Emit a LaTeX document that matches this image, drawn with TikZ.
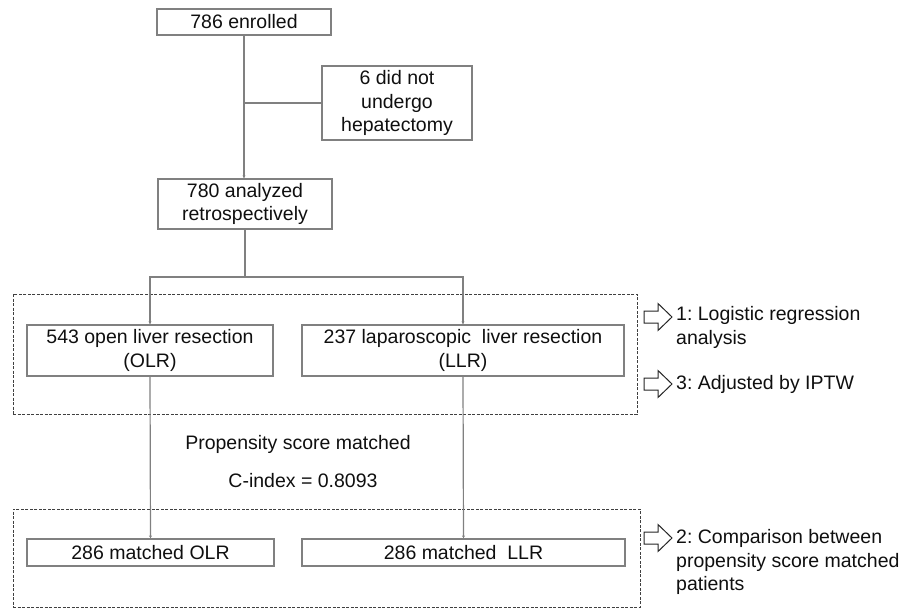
\documentclass[tikz,border=0pt]{standalone}
\usepackage{fontspec}
\setmainfont{Liberation Sans}
\usetikzlibrary{arrows.meta}
\definecolor{boxline}{RGB}{128,128,128}
\definecolor{txt}{RGB}{15,15,15}
\frenchspacing
\begin{document}
\begin{tikzpicture}[x=1pt,y=-1pt,
  font=\fontsize{19.5}{23.3}\selectfont,
  box/.style={draw=boxline,line width=1.1pt,inner sep=0pt,align=center,text=txt},
  link/.style={draw=boxline,line width=1.2pt},
  linkarr/.style={link,-{Stealth[length=3pt,width=3pt]}},
  group/.style={draw=black!75,line width=1pt,dash pattern=on 3pt off 1.5pt},
  note/.style={anchor=west,align=left,inner sep=0pt,text=txt},
  plain/.style={inner sep=0pt,text=txt}]
\useasboundingbox (0,0) rectangle (914,608);

% main flow boxes
\node[box,minimum width=174,minimum height=26] (enr) at (244,22) {786 enrolled};
\node[box,minimum width=150,minimum height=74] (excl) at (397,103) {6 did not\\undergo\\hepatectomy};
\node[box,minimum width=174,minimum height=50] (ana) at (245,204) {780 analyzed\\retrospectively};
\node[box,minimum width=246,minimum height=51] (olr) at (150,350.5) {543 open liver resection\\(OLR)};
\node[box,minimum width=322,minimum height=51] (llr) at (463,350.5) {237 laparoscopic\ \ liver resection\\(LLR)};
\node[box,minimum width=247,minimum height=27] (molr) at (150.5,552.5) {286 matched OLR};
\node[box,minimum width=323,minimum height=27] (mllr) at (463.5,552.5) {286 matched\ \ LLR};

% dashed analysis groups
\node[group,minimum width=624,minimum height=120,inner sep=0pt] (g1) at (325,354) {};
\node[group,minimum width=627,minimum height=98,inner sep=0pt] (g2) at (326.5,558) {};

% matching labels
\node[plain] (psm) at (298,444) {Propensity score matched};
\node[plain] (cidx) at (303,481) {C-index = 0.8093};

% connectors
\coordinate (split) at (ana.south |- 0,277);
\draw[linkarr] (enr.south) -- (enr.south |- ana.north);
\draw[link] (enr.south |- excl.west) -- (excl.west);
\draw[link] (ana.south) -- (split);
\draw[linkarr] (split) -| (olr.north);
\draw[linkarr] (split) -| (llr.north);
\draw[linkarr] (olr.south) -- (molr.north);
\draw[linkarr] (llr.south) -- (mllr.north);

% outline block arrows with notes
\foreach \n/\yy in {a1/317,a3/384,a2/538}{
  \coordinate (\n) at (644,\yy);
  \draw[black!85,line width=1pt,fill=white,line join=miter]
    (\n) ++(0,-6) -- ++(14,0) -- ++(0,-7.5) -- ++(14,13.5) -- ++(-14,13.5)
    -- ++(0,-7.5) -- ++(-14,0) -- cycle;
}
\node[note] (n1) at (676,327.5) {1: Logistic regression\\analysis};
\node[note] (n3) at (676,384) {3: Adjusted by IPTW};
\node[note] (n2) at (676,562) {2: Comparison between\\propensity score matched\\patients};
\end{tikzpicture}
\end{document}
